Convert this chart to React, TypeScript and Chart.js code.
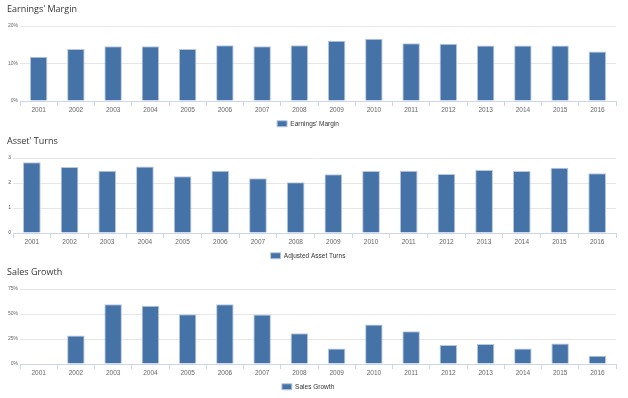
import React, { useEffect, useRef } from "react";
import { Chart, registerables } from "chart.js";

Chart.register(...registerables);

const categories = ["2001", "2002", "2003", "2004", "2005", "2006", "2007", "2008", "2009", "2010", "2011", "2012", "2013", "2014", "2015", "2016"];
const earningsMargin = [11.8, 13.9, 14.6, 14.6, 13.9, 14.9, 14.6, 14.9, 16.1, 16.6, 15.4, 15.3, 14.8, 14.8, 14.8, 13.2];
const assetTurns = [2.83, 2.64, 2.49, 2.66, 2.27, 2.49, 2.19, 2.03, 2.35, 2.48, 2.49, 2.36, 2.52, 2.48, 2.61, 2.39];
const salesGrowth = [null, 28.5, 59.7, 58.3, 49.7, 59.7, 49.4, 30.8, 15.5, 39.4, 32.8, 18.9, 19.9, 15.5, 20.5, 8.3];

const earningsTicks = [0, 10, 20];
const turnsTicks = [0, 1, 2, 3];
const growthTicks = [0, 25, 50, 75];

const BAR = "#4572a7";
const H = 137;
const LEG_FONT = 6.5;
const LEG_PAD = 4;

type PanelProps = {
  top: number;
  title: string;
  label: string;
  data: (number | null)[];
  ticks: number[];
  pct: boolean;
  yWidth: number;
};

function Panel({ top, title, label, data, ticks, pct, yWidth }: PanelProps) {
  const ref = useRef<HTMLCanvasElement | null>(null);
  useEffect(() => {
    if (!ref.current) return;
    const legendH = LEG_FONT + LEG_PAD + 10;
    const chart = new Chart(ref.current, {
      type: "bar",
      data: {
        labels: categories,
        datasets: [
          {
            label,
            data,
            backgroundColor: BAR,
            borderColor: "#b9c8de",
            borderWidth: 1,
            barPercentage: 0.47,
            categoryPercentage: 1,
          },
        ],
      },
      options: {
        animation: false,
        responsive: false,
        layout: { padding: { top: 26, right: 12, left: 0, bottom: 0 } },
        plugins: {
          title: { display: false },
          tooltip: { enabled: false },
          legend: {
            display: true,
            position: "bottom",
            labels: {
              boxWidth: 10,
              boxHeight: 6,
              padding: LEG_PAD,
              color: "#333333",
              font: { family: "'Liberation Sans', Arial, sans-serif", size: LEG_FONT },
            },
          },
        },
        scales: {
          x: {
            offset: true,
            grid: {
              display: true,
              drawOnChartArea: false,
              drawTicks: true,
              tickLength: 5,
              color: "#ccd6eb",
              offset: true,
            },
            border: { display: true, color: "#ccd6eb" },
            ticks: {
              padding: 0,
              color: "#666666",
              font: { family: "'Liberation Sans', Arial, sans-serif", size: 6.5 },
              maxRotation: 0,
              autoSkip: false,
            },
            afterFit: (scale: any) => {
              scale.height = H - legendH - 101;
            },
          },
          y: {
            min: ticks[0],
            max: ticks[ticks.length - 1],
            afterBuildTicks: (scale: any) => {
              scale.ticks = ticks.map((v) => ({ value: v }));
            },
            grid: { color: "#e6e6e6", drawTicks: false },
            border: { display: false },
            ticks: {
              padding: 2,
              color: "#666666",
              font: { family: "'Liberation Sans', Arial, sans-serif", size: 5 },
              callback: (v: any) => (pct ? `${v}%` : `${v}`),
            },
            afterFit: (scale: any) => {
              scale.width = yWidth;
            },
          },
        },
      },
    } as any);
    return () => chart.destroy();
  }, []);
  return (
    <div style={{ position: "absolute", left: 0, top, width: 628, height: H }}>
      <canvas ref={ref} width={628} height={H} style={{ position: "absolute", left: 0, top: 0, width: 628, height: H }} />
      <div
        style={{
          position: "absolute",
          left: 7,
          top: 3,
          height: 12,
          lineHeight: "12px",
          fontFamily: "'Open Sans', sans-serif",
          fontSize: 9,
          color: "#333333",
          whiteSpace: "nowrap",
        }}
      >
        {title}
      </div>
    </div>
  );
}

export default function App() {
  return (
    <div style={{ position: "fixed", left: 0, top: 0, width: 628, height: 398, overflow: "hidden", background: "#ffffff" }}>
      <Panel top={0} title="Earnings' Margin" label="Earnings' Margin" data={earningsMargin} ticks={earningsTicks} pct={true} yWidth={20} />
      <Panel top={132} title="Asset' Turns" label="Adjusted Asset Turns" data={assetTurns} ticks={turnsTicks} pct={false} yWidth={13} />
      <Panel top={263} title="Sales Growth" label="Sales Growth" data={salesGrowth} ticks={growthTicks} pct={true} yWidth={20} />
    </div>
  );
}
